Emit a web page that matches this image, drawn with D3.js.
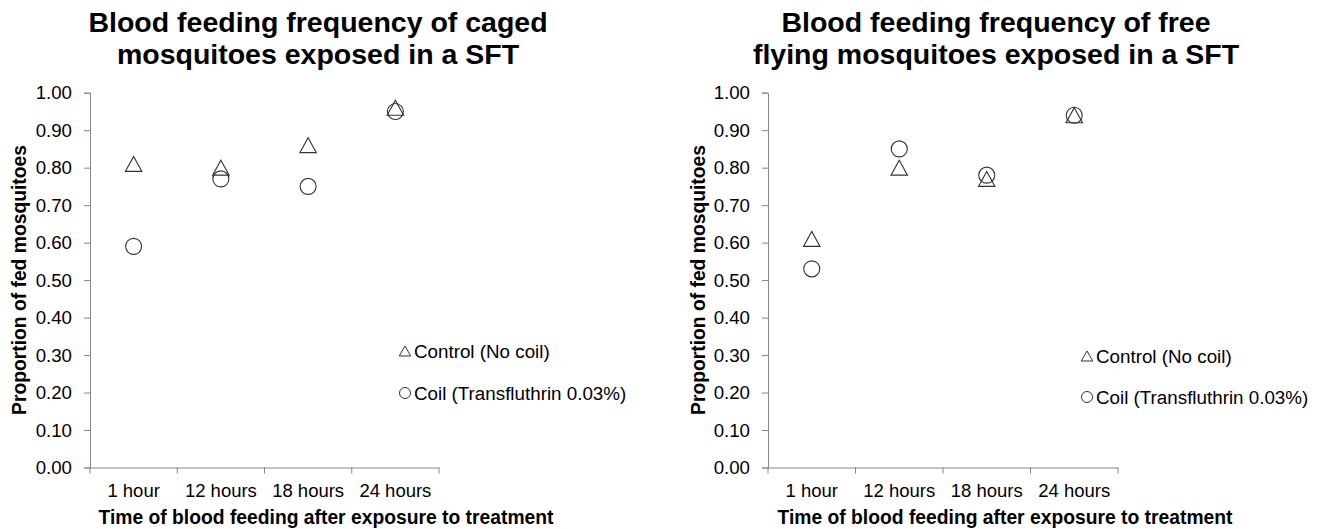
<!DOCTYPE html>
<html>
<head>
<meta charset="utf-8">
<script src="https://cdn.jsdelivr.net/npm/d3@7"></script>
<style>
  body { margin: 0; background: #fff; }
  text { font-family: "Liberation Sans", Arial, sans-serif; fill: #000; }
</style>
</head>
<body>
<svg id="chart" width="1322" height="529"></svg>
<script>
const categories = ["1 hour", "12 hours", "18 hours", "24 hours"];
const yTicks = [0, 0.1, 0.2, 0.3, 0.4, 0.5, 0.6, 0.7, 0.8, 0.9, 1.0];

// caged mosquitoes
const cagedControl = [0.81, 0.80, 0.86, 0.96];
const cagedCoil = [0.59, 0.77, 0.75, 0.95];

// free flying mosquitoes
const freeControl = [0.61, 0.80, 0.77, 0.94];
const freeCoil = [0.53, 0.85, 0.78, 0.94];

const legendLabels = ["Control (No coil)", "Coil (Transfluthrin 0.03%)"];

const svg = d3.select("#chart");

const panels = [
    { title: ["Blood feeding frequency of caged", "mosquitoes exposed in a SFT"],
      control: cagedControl, coil: cagedCoil,
      left: 90, right: 439, titleX: 318, yLabelX: 26, xLabelX: 326, legX: 405, legY: [351, 393] },
    { title: ["Blood feeding frequency of free", "flying mosquitoes exposed in a SFT"],
      control: freeControl, coil: freeCoil,
      left: 768, right: 1118, titleX: 996, yLabelX: 705, xLabelX: 1005, legX: 1087, legY: [356, 397] }
];

const yTop = 92.7, yBottom = 467.5;
const axisColor = "#868686";
const markColor = "#333";

// triangle centred on its bounding box
function triangle(w, h) {
    return `M0,${-h / 2}L${w / 2},${h / 2}L${-w / 2},${h / 2}Z`;
}

panels.forEach(p => {
    const g = svg.append("g");

    const x = d3.scaleBand().domain(categories).range([p.left, p.right]);
    const y = d3.scaleLinear().domain([0, 1]).range([yBottom, yTop]);

    // title
    p.title.forEach((line, i) => {
        g.append("text")
            .attr("x", p.titleX).attr("y", 32 + i * 32)
            .attr("text-anchor", "middle")
            .style("font-size", "28.5px").style("font-weight", "bold")
            .text(line);
    });

    // y axis
    const yAxis = g.append("g")
        .attr("transform", `translate(${p.left},0)`)
        .call(d3.axisLeft(y).tickValues(yTicks).tickFormat(d3.format(".2f"))
            .tickSizeOuter(0).tickSize(6).tickPadding(12));
    yAxis.select(".domain").attr("stroke", axisColor);
    yAxis.selectAll(".tick line").attr("stroke", axisColor);
    yAxis.selectAll(".tick text").style("font-size", "18.7px").attr("fill", "#000");

    // x axis
    const xAxis = g.append("g")
        .attr("transform", `translate(0,${yBottom})`)
        .call(d3.axisBottom(x).tickSize(0).tickPadding(16));
    xAxis.select(".domain").attr("stroke", axisColor);
    xAxis.selectAll(".tick text").style("font-size", "18.5px").attr("fill", "#000");
    // category boundary ticks
    const edges = categories.map(c => x(c)).concat([x.range()[1]]);
    g.selectAll(".edge").data(edges).enter().append("line")
        .attr("x1", d => d).attr("x2", d => d)
        .attr("y1", yBottom).attr("y2", yBottom + 6)
        .attr("stroke", axisColor);

    // axis titles
    g.append("text")
        .attr("transform", `translate(${p.yLabelX},280) rotate(-90)`)
        .attr("text-anchor", "middle")
        .style("font-size", "19.3px").style("font-weight", "bold")
        .text("Proportion of fed mosquitoes");

    g.append("text")
        .attr("x", p.xLabelX).attr("y", 524)
        .attr("text-anchor", "middle")
        .style("font-size", "19.3px").style("font-weight", "bold")
        .text("Time of blood feeding after exposure to treatment");

    const cx = (d, i) => x(categories[i]) + x.bandwidth() / 2;

    // coil circles
    g.selectAll(".coil").data(p.coil).enter().append("circle")
        .attr("cx", cx).attr("cy", d => y(d)).attr("r", 8)
        .attr("fill", "none").attr("stroke", markColor).attr("stroke-width", 1.1);

    // control triangles
    g.selectAll(".ctrl").data(p.control).enter().append("path")
        .attr("transform", (d, i) => `translate(${cx(d, i)},${y(d)})`)
        .attr("d", triangle(16.5, 15))
        .attr("fill", "none").attr("stroke", markColor).attr("stroke-width", 1.1);

    // legend
    g.append("path")
        .attr("transform", `translate(${p.legX},${p.legY[0]})`)
        .attr("d", triangle(11.5, 10))
        .attr("fill", "none").attr("stroke", markColor);
    g.append("circle")
        .attr("cx", p.legX).attr("cy", p.legY[1]).attr("r", 5.5)
        .attr("fill", "none").attr("stroke", markColor);
    legendLabels.forEach((lab, i) => {
        g.append("text")
            .attr("x", p.legX + 9).attr("y", p.legY[i] + 7)
            .style("font-size", "18.8px")
            .text(lab);
    });
});
</script>
</body>
</html>
